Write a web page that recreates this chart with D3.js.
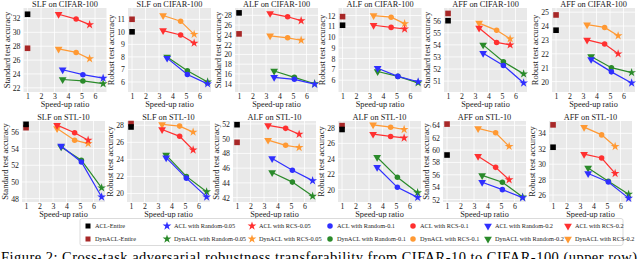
<!DOCTYPE html>
<html>
<head>
<meta charset="utf-8">
<script src="https://cdn.jsdelivr.net/npm/d3@7"></script>
<style>
body { margin: 0; background: #fff; }
svg { display: block; font-family: "Liberation Serif", "DejaVu Serif", serif; }
</style>
</head>
<body>
<div id="container"></div>
<script>
// panel texts
const titles = ["SLF on CIFAR-100", "SLF on CIFAR-100", "ALF on CIFAR-100", "ALF on CIFAR-100", "AFF on CIFAR-100", "AFF on CIFAR-100",
  "SLF on STL-10", "SLF on STL-10", "ALF on STL-10", "ALF on STL-10", "AFF on STL-10", "AFF on STL-10"];
const yTitles = ["Standard test accuracy", "Robust test accuracy"];
const xTitle = "Speed-up ratio";

const yDomains = [[21.4, 33.5], [5.2, 11.9], [12.3, 29.5], [4.9, 12.7], [50.1, 57.05], [19.25, 25.3],
  [47.6, 57.3], [19.0, 28.5], [41.4, 52.4], [18.4, 28.9], [51.6, 64.7], [25.1, 35.6]];
const yTicks = [[22, 24, 26, 28, 30, 32], [6, 7, 8, 9, 10, 11], [14, 16, 18, 20, 22, 24, 26, 28], [6, 7, 8, 9, 10, 11, 12],
  [51, 52, 53, 54, 55, 56], [20, 21, 22, 23, 24, 25],
  [48, 50, 52, 54, 56], [20, 22, 24, 26, 28], [42, 44, 46, 48, 50, 52], [20, 22, 24, 26, 28], [52, 54, 56, 58, 60, 62, 64], [26, 28, 30, 32, 34]];
const xTicks = [1, 2, 3, 4, 5, 6];

// speed-up ratios for budgets 0.2, 0.1, 0.05
const entireSpeedup = 1;
const rcsSpeedup = [3.3, 4.6, 5.6];
const randomSpeedup = [3.6, 5.1, 6.6];
const budgets = ["0.2", "0.1", "0.05"];

// accuracies per panel
const aclEntire = [32.6, 10.0, 28.5, 11.1, 56.0, 23.7, 56.9, 27.8, 51.9, 27.8, 59.2, 32.2];
const dynEntire = [27.7, 11.0, 24.2, 11.9, 56.6, 24.8, 56.5, 28.2, 49.5, 28.3, 64.2, 35.1];
const aclRcs = [[32.6, 31.9, 31.1], [10.1, 9.75, 9.1], [28.4, 27.7, 26.9], [11.1, 10.9, 10.75], [55.4, 54.2, 54.0], [23.0, 22.7, 22.0],
  [56.8, 55.9, 55.0], [27.5, 26.7, 25.1], [51.8, 51.4, 50.6], [27.2, 26.9, 26.7], [59.0, 57.2, 55.2], [31.3, 30.8, 28.8]];
const dynRcs = [[27.6, 27.1, 26.2], [11.3, 10.85, 9.8], [23.8, 23.4, 22.9], [12.0, 11.85, 11.25], [55.8, 55.2, 54.5], [24.1, 23.9, 23.3],
  [56.4, 55.0, 54.6], [28.1, 27.9, 27.2], [49.8, 49.1, 48.8], [28.4, 28.1, 27.8], [63.5, 62.8, 60.6], [34.8, 33.8, 32.3]];
const aclRandom = [[24.6, 23.9, 23.4], [7.9, 6.6, 5.85], [15.3, 14.9, 13.9], [7.1, 6.35, 5.85], [53.3, 52.3, 50.85], [21.6, 20.7, 19.9],
  [54.3, 52.4, 48.2], [24.2, 21.8, 19.6], [47.3, 45.7, 44.3], [22.9, 20.3, 19.0], [54.8, 53.6, 52.3], [28.8, 27.7, 25.6]];
const dynRandom = [[23.2, 23.0, 22.6], [8.0, 6.9, 6.0], [16.6, 15.3, 14.0], [6.8, 6.35, 5.75], [54.0, 52.6, 51.6], [21.8, 21.0, 20.65],
  [54.2, 52.6, 49.3], [24.5, 22.0, 20.2], [45.4, 44.1, 42.2], [24.2, 21.6, 19.6], [55.9, 54.8, 52.4], [29.5, 27.8, 26.1]];

const caption = "Figure 2: Cross-task adversarial robustness transferability from CIFAR-10 to CIFAR-100 (upper row)";

const W = 640, H = 259;
const pw = 83;
const rowLefts = [[23.5, 128, 235, 338.5, 444, 552], [22, 127, 233, 338, 443, 549]];
const rowTops = [8, 121];
const rowBottoms = [92, 202];

const colors = { aclRcs: "#ff3030", dynRcs: "#ff9933", aclRandom: "#2f2fff", dynRandom: "#2a8a2a", aclEntire: "#000000", dynEntire: "#a82828" };
const shapes = [
  d3.symbol().type(d3.symbolTriangle).size(26),
  d3.symbol().type(d3.symbolCircle).size(24),
  d3.symbol().type(d3.symbolStar).size(24)
];
const rot = [180, 0, 0];

const svg = d3.select("#container").append("svg").attr("width", W).attr("height", H);

titles.forEach((t, i) => {
  const row = Math.floor(i / 6), col = i % 6;
  const left = rowLefts[row][col];
  const top = rowTops[row], bottom = rowBottoms[row];
  const x = d3.scaleLinear().domain([0.7, 6.85]).range([left, left + pw]);
  const y = d3.scaleLinear().domain(yDomains[i]).range([bottom, top]);
  const g = svg.append("g");

  g.append("rect").attr("x", left).attr("y", top).attr("width", pw).attr("height", bottom - top).attr("fill", "#e9e9e9");

  // grid
  g.selectAll(".gx").data(xTicks).enter().append("line")
    .attr("x1", d => x(d)).attr("x2", d => x(d)).attr("y1", top).attr("y2", bottom)
    .attr("stroke", "#fff").attr("stroke-width", 0.8);
  g.selectAll(".gy").data(yTicks[i]).enter().append("line")
    .attr("x1", left).attr("x2", left + pw).attr("y1", d => y(d)).attr("y2", d => y(d))
    .attr("stroke", "#fff").attr("stroke-width", 0.8);

  const xAxis = d3.axisBottom(x).tickValues(xTicks).tickFormat(d3.format("d")).tickSize(0).tickPadding(1.5);
  const yAxis = d3.axisLeft(y).tickValues(yTicks[i]).tickFormat(d3.format("d")).tickSize(0).tickPadding(3);
  g.append("g").attr("transform", `translate(0,${bottom})`).call(xAxis)
    .call(a => a.select(".domain").remove())
    .selectAll("text").attr("font-size", 7.8).attr("font-family", "Liberation Serif").attr("fill", "#222");
  g.append("g").attr("transform", `translate(${left},0)`).call(yAxis)
    .call(a => a.select(".domain").remove())
    .selectAll("text").attr("font-size", 7.8).attr("font-family", "Liberation Serif").attr("fill", "#222");

  g.append("text").attr("x", left + pw / 2).attr("y", top - 1.2).attr("text-anchor", "middle")
    .attr("font-size", 8.3).attr("fill", "#222").text(t);
  g.append("text").attr("x", left + pw / 2).attr("y", bottom + 15).attr("text-anchor", "middle")
    .attr("font-size", 8.3).attr("fill", "#222").text(xTitle);
  g.append("text").attr("transform", `translate(${left - 14},${(top + bottom) / 2}) rotate(-90)`)
    .attr("text-anchor", "middle").attr("font-size", 8.5).attr("fill", "#222").text(yTitles[i % 2]);

  const series = [
    { vals: dynRandom[i], xs: randomSpeedup, c: colors.dynRandom },
    { vals: aclRandom[i], xs: randomSpeedup, c: colors.aclRandom },
    { vals: dynRcs[i], xs: rcsSpeedup, c: colors.dynRcs },
    { vals: aclRcs[i], xs: rcsSpeedup, c: colors.aclRcs }
  ];
  const line = d3.line().x(d => x(d[0])).y(d => y(d[1]));
  series.forEach(s => {
    const pts = s.xs.map((v, k) => [v, s.vals[k]]);
    g.append("path").attr("d", line(pts)).attr("fill", "none").attr("stroke", s.c).attr("stroke-width", 1.2);
    g.selectAll(null).data(pts).enter().append("path")
      .attr("d", (d, k) => shapes[k]())
      .attr("transform", (d, k) => `translate(${x(d[0])},${y(d[1])}) rotate(${rot[k]})`)
      .attr("fill", s.c);
  });

  [[dynEntire[i], colors.dynEntire], [aclEntire[i], colors.aclEntire]].forEach(e => {
    g.append("rect").attr("x", x(entireSpeedup) - 2.8).attr("y", y(e[0]) - 2.8)
      .attr("width", 5.6).attr("height", 5.6).attr("fill", e[1]);
  });
});

// legend
const legendRows = [
  { prefix: "ACL", entire: colors.aclEntire, rand: colors.aclRandom, rcs: colors.aclRcs },
  { prefix: "DynACL", entire: colors.dynEntire, rand: colors.dynRandom, rcs: colors.dynRcs }
];
const legendCols = [88, 167, 252, 330, 413, 488, 568];
const legendYs = [226, 239];
svg.append("rect").attr("x", 80).attr("y", 218.5).attr("width", 543).attr("height", 27)
  .attr("rx", 2).attr("fill", "#fff").attr("stroke", "#ccc").attr("stroke-width", 0.7);

legendRows.forEach((r, ri) => {
  const items = [{ label: `${r.prefix}-Entire`, c: r.entire, k: -1 }];
  [2, 1, 0].forEach(k => {
    items.push({ label: `${r.prefix} with Random-${budgets[k]}`, c: r.rand, k: k });
    items.push({ label: `${r.prefix} with RCS-${budgets[k]}`, c: r.rcs, k: k });
  });
  items.forEach((it, j) => {
    const cx = legendCols[j], cy = legendYs[ri];
    if (it.k < 0) {
      svg.append("rect").attr("x", cx - 2.5).attr("y", cy - 2.5).attr("width", 5).attr("height", 5).attr("fill", it.c);
    } else {
      svg.append("path").attr("d", shapes[it.k]()).attr("transform", `translate(${cx},${cy}) rotate(${rot[it.k]})`).attr("fill", it.c);
    }
    svg.append("text").attr("x", cx + 7).attr("y", cy + 2.3).attr("font-size", 6.3).attr("fill", "#222").text(it.label);
  });
});

svg.append("text").attr("x", 1).attr("y", 262).attr("font-size", 14.5).attr("fill", "#000")
  .attr("textLength", 636).attr("lengthAdjust", "spacing").text(caption);
</script>
</body>
</html>
